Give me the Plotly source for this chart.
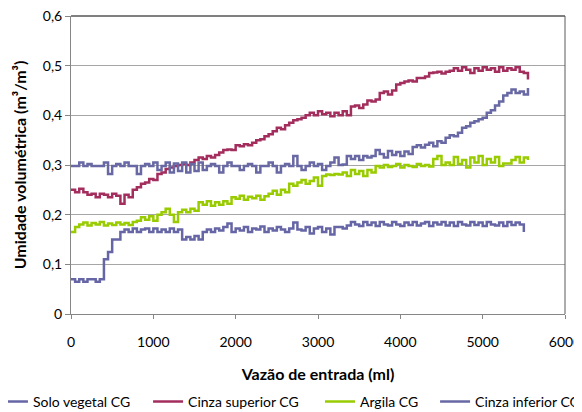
import plotly.graph_objects as go

# Inflow volume (ml) sampled every 50 ml
vazao_ml = list(range(0, 5551, 50))

solo_vegetal = [
    0.07, 0.065, 0.07, 0.065, 0.07, 0.07, 0.065, 0.07, 0.11, 0.125,
    0.15, 0.15, 0.165, 0.17,
    0.165, 0.172, 0.165, 0.17, 0.172, 0.165, 0.172, 0.165, 0.17, 0.165, 0.172, 0.165, 0.17,
    0.15, 0.155, 0.15, 0.157, 0.15, 0.165,
    0.17, 0.165, 0.172, 0.168, 0.175, 0.182, 0.165, 0.172, 0.168, 0.175, 0.165, 0.172,
    0.17, 0.176, 0.165, 0.172, 0.168, 0.175, 0.17, 0.165, 0.172, 0.184, 0.17,
    0.168, 0.175, 0.162, 0.172, 0.175, 0.165, 0.172, 0.16,
    0.175, 0.175, 0.172,
    0.178, 0.185, 0.18, 0.177, 0.185, 0.179, 0.184, 0.177, 0.185, 0.18, 0.178,
    0.185, 0.18, 0.177, 0.184, 0.179, 0.185, 0.178, 0.182, 0.185, 0.177, 0.184,
    0.18, 0.185, 0.178, 0.184, 0.177, 0.185, 0.18, 0.178, 0.185, 0.179, 0.184,
    0.177, 0.185, 0.18, 0.178, 0.184, 0.177, 0.185, 0.179, 0.184, 0.18,
    0.165,
]

cinza_superior = [
    0.25, 0.245, 0.252, 0.245,
    0.24, 0.242, 0.235, 0.242, 0.24, 0.235, 0.242, 0.238,
    0.222, 0.24, 0.235, 0.25, 0.255, 0.262, 0.265, 0.272, 0.27, 0.282,
    0.285, 0.292, 0.295, 0.298, 0.3, 0.302, 0.3, 0.305, 0.31, 0.315,
    0.312, 0.318, 0.315, 0.32, 0.325, 0.33, 0.331, 0.33, 0.34, 0.338,
    0.342, 0.34, 0.345, 0.35, 0.352, 0.358, 0.362, 0.368, 0.375, 0.372,
    0.38, 0.385, 0.39, 0.392, 0.395, 0.4, 0.405,
    0.4, 0.408, 0.402, 0.405, 0.398, 0.405, 0.4, 0.408, 0.4,
    0.418, 0.42, 0.415, 0.422, 0.43, 0.428, 0.432, 0.445, 0.448, 0.442,
    0.45, 0.462, 0.465, 0.468, 0.47, 0.468, 0.475, 0.475, 0.478, 0.485,
    0.486, 0.488, 0.484, 0.488, 0.49,
    0.495, 0.49, 0.497, 0.492, 0.485, 0.495, 0.49, 0.497, 0.492, 0.495,
    0.488, 0.497, 0.49, 0.495, 0.492, 0.497,
    0.488, 0.485, 0.472,
]

argila = [
    0.165, 0.175, 0.18,
    0.184, 0.178, 0.183, 0.18, 0.185, 0.178, 0.182, 0.179, 0.184, 0.18, 0.183, 0.179,
    0.185, 0.188, 0.195, 0.19, 0.197, 0.188, 0.2, 0.205, 0.212, 0.2,
    0.185, 0.205, 0.21, 0.205, 0.212, 0.208, 0.225,
    0.22, 0.227, 0.218, 0.225, 0.22, 0.227, 0.222,
    0.235,
    0.232, 0.238, 0.23, 0.236, 0.233, 0.238, 0.23, 0.237,
    0.242, 0.248, 0.24, 0.25, 0.245,
    0.262,
    0.258, 0.265, 0.27, 0.262, 0.268, 0.275, 0.258,
    0.278,
    0.281, 0.28, 0.282, 0.281,
    0.285, 0.278, 0.29, 0.282, 0.288, 0.278, 0.29, 0.285,
    0.298, 0.295, 0.3, 0.296, 0.298, 0.302, 0.295, 0.3, 0.298, 0.296,
    0.302, 0.298, 0.3, 0.297,
    0.312, 0.318, 0.3,
    0.305, 0.3, 0.316, 0.302, 0.31, 0.295, 0.315, 0.305, 0.318, 0.3,
    0.312, 0.305, 0.316, 0.298, 0.303, 0.303, 0.31, 0.316, 0.305, 0.315,
    0.31,
]

cinza_inferior = [
    0.298, 0.298, 0.305, 0.298, 0.302, 0.298, 0.298, 0.298, 0.305, 0.282,
    0.298, 0.302, 0.298, 0.305, 0.298, 0.298, 0.282, 0.298, 0.302, 0.298,
    0.305, 0.29, 0.298, 0.305, 0.285, 0.303, 0.288, 0.305, 0.285, 0.302,
    0.288, 0.305, 0.29, 0.298, 0.302, 0.298, 0.285, 0.298, 0.305, 0.298,
    0.298, 0.29, 0.298, 0.302, 0.298, 0.285, 0.298, 0.298, 0.305, 0.298,
    0.285, 0.298, 0.302, 0.298, 0.318, 0.298, 0.29, 0.298, 0.305, 0.298,
    0.302, 0.29, 0.298, 0.305,
    0.315, 0.3, 0.301,
    0.318, 0.312, 0.318, 0.31, 0.318, 0.315, 0.318,
    0.33,
    0.322, 0.315, 0.328, 0.32, 0.326, 0.318, 0.327, 0.322,
    0.336, 0.34, 0.335, 0.341,
    0.345, 0.338, 0.348, 0.345,
    0.355, 0.36, 0.358, 0.365, 0.375, 0.378, 0.385, 0.388, 0.392, 0.395,
    0.405, 0.41, 0.42, 0.428, 0.44, 0.445, 0.452, 0.445, 0.448, 0.442,
    0.455,
]

series_names = ["Solo vegetal CG", "Cinza superior CG", "Argila CG", "Cinza inferior CG"]
series_colors = ["#6666A6", "#A32E5E", "#99CC00", "#6868A4"]

x_tickvals = [0, 1000, 2000, 3000, 4000, 5000, 6000]
y_tickvals = [0, 0.1, 0.2, 0.3, 0.4, 0.5, 0.6]
y_ticktext = ["0", "0,1", "0,2", "0,3", "0,4", "0,5", "0,6"]

FONT = "Lato, 'Open Sans', sans-serif"

legend_ids = ["legend", "legend2", "legend3", "legend4"]
legend_x = [-0.158, 0.156, 0.504, 0.737]

fig = go.Figure()
for name, vals, color, lid in zip(series_names,
                                  [solo_vegetal, cinza_superior, argila, cinza_inferior],
                                  series_colors, legend_ids):
    fig.add_trace(go.Scatter(
        x=vazao_ml[:len(vals)], y=vals, name=name, mode="lines",
        line=dict(color=color, width=2.5, shape="hv"), legend=lid,
    ))

legend_common = dict(
    orientation="h", xanchor="left", y=-0.295, yanchor="middle",
    font=dict(family=FONT, size=14, color="#000000"),
    itemwidth=30, bgcolor="rgba(0,0,0,0)",
)

fig.update_layout(
    width=582, height=412,
    margin=dict(l=63, r=25, t=8, b=106, autoexpand=False),
    paper_bgcolor="white", plot_bgcolor="white",
    font=dict(family=FONT, size=14, color="#000000"),
    showlegend=True,
    **{lid: dict(legend_common, x=lx) for lid, lx in zip(legend_ids, legend_x)},
)

fig.update_xaxes(
    range=[0, 6000], tickvals=x_tickvals, ticks="outside", ticklen=4,
    tickcolor="#868686", linecolor="#868686", linewidth=1, showline=True,
    mirror=False, showgrid=False, zeroline=False,
    tickfont=dict(family=FONT, size=14, color="#000000"),
    ticklabelstandoff=11, ticklabeloverflow="allow",
    title=dict(text="<b>Vazão de entrada (ml)</b>", font=dict(family=FONT, size=16), standoff=20),
)
fig.update_yaxes(
    range=[0, 0.6], tickvals=y_tickvals, ticktext=y_ticktext, ticks="outside",
    ticklen=5, tickcolor="#868686", linecolor="#868686", linewidth=1, showline=True,
    showgrid=True, gridcolor="#A6A6A6", gridwidth=1, zeroline=False,
    tickfont=dict(family=FONT, size=14, color="#000000"),
    ticklabelstandoff=0, ticklabeloverflow="allow",
    title=dict(text="<b>Umidade volumétrica (m³/m³)</b>", font=dict(family=FONT, size=16), standoff=12),
)

# plot frame (top and right edges)
fig.add_shape(type="line", xref="paper", yref="paper", x0=0, x1=1, y0=1, y1=1,
              line=dict(color="#000000", width=1))
fig.add_shape(type="line", xref="paper", yref="paper", x0=1, x1=1, y0=0, y1=1,
              line=dict(color="#5a5a5a", width=1))

fig.write_html("out.html")
